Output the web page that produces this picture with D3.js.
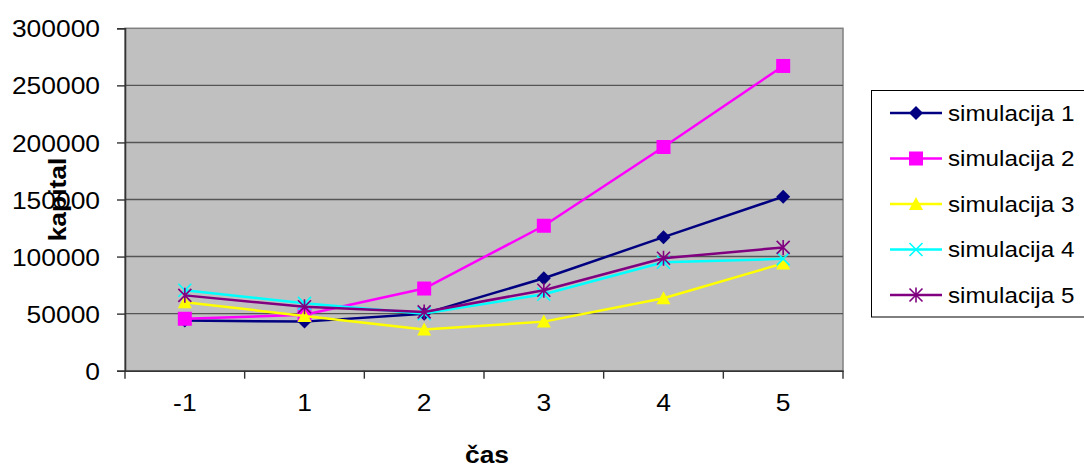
<!DOCTYPE html>
<html>
<head>
<meta charset="utf-8">
<script src="https://cdn.jsdelivr.net/npm/d3@7"></script>
<style>
  html, body { margin: 0; padding: 0; background: #fff; }
  svg { display: block; font-family: "Liberation Sans", Arial, sans-serif; }
</style>
</head>
<body>
<svg id="chart" width="1084" height="469"></svg>
<script>
// Time steps on the x axis
const categories = ["-1", "1", "2", "3", "4", "5"];

// Capital per simulation run
const sim1 = [44000, 43000, 50000, 81000, 117000, 152500];
const sim2 = [45500, 49000, 72000, 127000, 196000, 267000];
const sim3 = [60000, 48000, 36000, 43000, 63500, 94000];
const sim4 = [70500, 59000, 50000, 67000, 95000, 98000];
const sim5 = [66000, 56000, 51500, 70500, 98500, 108000];

const seriesNames = ["simulacija 1", "simulacija 2", "simulacija 3", "simulacija 4", "simulacija 5"];
const yTicks = [0, 50000, 100000, 150000, 200000, 250000, 300000];

const xTitle = "čas";
const yTitle = "kapital";

const series = [
  { name: seriesNames[0], values: sim1, color: "#000080", marker: "diamond" },
  { name: seriesNames[1], values: sim2, color: "#FF00FF", marker: "square" },
  { name: seriesNames[2], values: sim3, color: "#FFFF00", marker: "triangle" },
  { name: seriesNames[3], values: sim4, color: "#00FFFF", marker: "x" },
  { name: seriesNames[4], values: sim5, color: "#800080", marker: "star" }
];

const SX = 1.1; // horizontal text stretch
const svg = d3.select("#chart");

const plot = { left: 125, right: 843, top: 28.3, bottom: 370.7 };

const x = d3.scaleBand().domain(categories).range([plot.left, plot.right]);
const y = d3.scaleLinear().domain([0, 300000]).range([plot.bottom, plot.top]);
const cx = c => x(c) + x.bandwidth() / 2;

// Plot area
svg.append("rect")
  .attr("x", plot.left).attr("y", plot.top)
  .attr("width", plot.right - plot.left).attr("height", plot.bottom - plot.top)
  .attr("fill", "#C0C0C0")
  .attr("stroke", "#808080").attr("stroke-width", 1.5);

// Horizontal gridlines
svg.append("g")
  .selectAll("line")
  .data(yTicks.filter(v => v > 0 && v < 300000))
  .join("line")
  .attr("x1", plot.left).attr("x2", plot.right)
  .attr("y1", d => y(d)).attr("y2", d => y(d))
  .attr("stroke", "#555").attr("stroke-width", 1.4);

// Y axis
const yAxis = svg.append("g")
  .attr("transform", `translate(${plot.left},0)`)
  .call(d3.axisLeft(y).tickValues(yTicks).tickSize(8).tickPadding(0).tickFormat(d3.format("d")));
yAxis.select(".domain").attr("stroke", "#333").attr("stroke-width", 1.6);
yAxis.selectAll(".tick line").attr("stroke", "#333").attr("stroke-width", 1.4);
yAxis.selectAll(".tick text")
  .attr("fill", "#000")
  .attr("font-size", 24)
  .attr("font-family", "Liberation Sans, Arial, sans-serif")
  .attr("text-anchor", "end")
  .attr("x", -25 / SX)
  .attr("dy", null)
  .attr("y", 8.6)
  .attr("transform", `scale(${SX},1)`);

// X axis
const xAxis = svg.append("g")
  .attr("transform", `translate(0,${plot.bottom})`)
  .call(d3.axisBottom(x).tickSize(0).tickPadding(0));
xAxis.select(".domain").attr("stroke", "#333").attr("stroke-width", 1.6);
xAxis.selectAll(".tick text")
  .attr("fill", "#000")
  .attr("font-size", 24)
  .attr("font-family", "Liberation Sans, Arial, sans-serif")
  .attr("text-anchor", "middle")
  .attr("dy", null)
  .attr("y", 40.5)
  .attr("transform", `scale(${SX},1)`);
// category boundary ticks
const bounds = categories.map(c => x(c)).concat([x(categories[categories.length - 1]) + x.bandwidth()]);
svg.append("g")
  .selectAll("line")
  .data(bounds)
  .join("line")
  .attr("x1", d => d).attr("x2", d => d)
  .attr("y1", plot.bottom).attr("y2", plot.bottom + 8)
  .attr("stroke", "#333").attr("stroke-width", 1.4);

// Axis titles
svg.append("text")
  .attr("transform", `translate(${(plot.left + plot.right) / 2 + 3},463) scale(${SX},1)`)
  .attr("text-anchor", "middle")
  .attr("font-size", 24).attr("font-weight", "bold")
  .text(xTitle);

svg.append("text")
  .attr("transform", `translate(66,${(plot.top + plot.bottom) / 2}) rotate(-90) scale(${SX},1)`)
  .attr("text-anchor", "middle")
  .attr("font-size", 24).attr("font-weight", "bold")
  .text(yTitle);

// Marker drawing
function drawMarker(g, type, color) {
  if (type === "diamond") {
    g.append("path").attr("d", "M0,-7L7,0L0,7L-7,0Z").attr("fill", color);
  } else if (type === "square") {
    g.append("rect").attr("x", -7).attr("y", -7).attr("width", 14).attr("height", 14).attr("fill", color);
  } else if (type === "triangle") {
    g.append("path").attr("d", "M0,-7L7,6L-7,6Z").attr("fill", color);
  } else if (type === "x") {
    g.append("path").attr("d", "M-6.5,-6.5L6.5,6.5M-6.5,6.5L6.5,-6.5")
      .attr("stroke", color).attr("stroke-width", 1.6).attr("fill", "none");
  } else if (type === "star") {
    g.append("path").attr("d", "M-6.5,-6.5L6.5,6.5M-6.5,6.5L6.5,-6.5M0,-7.5L0,7.5")
      .attr("stroke", color).attr("stroke-width", 1.6).attr("fill", "none");
  }
}

const line = d3.line().x((d, i) => cx(categories[i])).y(d => y(d));

// Series lines and markers
series.forEach(s => {
  const g = svg.append("g");
  g.append("path")
    .attr("d", line(s.values))
    .attr("fill", "none")
    .attr("stroke", s.color)
    .attr("stroke-width", 2.5)
    .attr("stroke-linejoin", "round");
  s.values.forEach((v, i) => {
    const m = g.append("g").attr("transform", `translate(${cx(categories[i])},${y(v)})`);
    drawMarker(m, s.marker, s.color);
  });
});

// Legend
const legend = svg.append("g");
legend.append("rect")
  .attr("x", 871.5).attr("y", 90.5)
  .attr("width", 300).attr("height", 226.5)
  .attr("fill", "#fff").attr("stroke", "#000").attr("stroke-width", 1);

const ly = d3.scalePoint().domain(seriesNames).range([113, 295]);
series.forEach(s => {
  const yy = ly(s.name);
  legend.append("line")
    .attr("x1", 890).attr("x2", 942)
    .attr("y1", yy).attr("y2", yy)
    .attr("stroke", s.color).attr("stroke-width", 2.5);
  const m = legend.append("g").attr("transform", `translate(916,${yy})`);
  drawMarker(m, s.marker, s.color);
  legend.append("text")
    .attr("transform", `translate(948,${yy + 7.5}) scale(${SX},1)`)
    .attr("font-size", 22)
    .text(s.name);
});
</script>
</body>
</html>
